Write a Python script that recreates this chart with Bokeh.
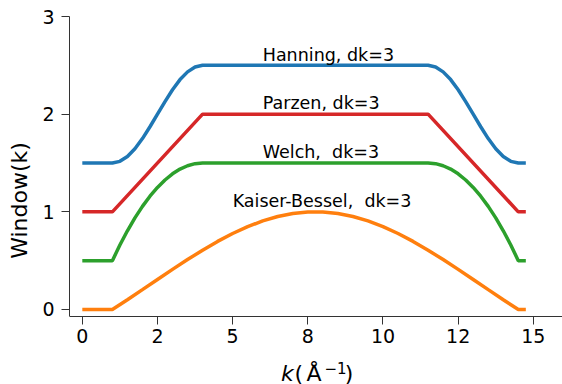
from bokeh.plotting import figure
from bokeh.models import ColumnDataSource, FixedTicker, Label, Range1d
from bokeh.core.properties import value
from bokeh.embed import file_html
from bokeh.resources import INLINE

# ---------------- data ----------------
hann_k = [0.0, 1.0, 1.25, 1.5, 1.75, 2.0, 2.25, 2.5, 2.75, 3.0, 3.25, 3.5, 3.75, 4.0,
          11.5, 11.75, 12.0, 12.25, 12.5, 12.75, 13.0, 13.25, 13.5, 13.75, 14.0, 14.25, 14.5, 14.75]
hann_w = [0.0, 0.0, 0.017, 0.067, 0.146, 0.25, 0.371, 0.5, 0.629, 0.75, 0.854, 0.933, 0.983, 1.0,
          1.0, 0.983, 0.933, 0.854, 0.75, 0.629, 0.5, 0.371, 0.25, 0.146, 0.067, 0.017, 0.0, 0.0]

parzen_k = [0.0, 1.0, 4.0, 11.5, 14.5, 14.75]
parzen_w = [0.0, 0.0, 1.0, 1.0, 0.0, 0.0]

welch_k = [0.0, 1.0, 1.25, 1.5, 1.75, 2.0, 2.25, 2.5, 2.75, 3.0, 3.25, 3.5, 3.75, 4.0,
           11.5, 11.75, 12.0, 12.25, 12.5, 12.75, 13.0, 13.25, 13.5, 13.75, 14.0, 14.25, 14.5, 14.75]
welch_w = [0.0, 0.0, 0.160, 0.306, 0.438, 0.556, 0.660, 0.75, 0.826, 0.889, 0.938, 0.972, 0.993, 1.0,
           1.0, 0.993, 0.972, 0.938, 0.889, 0.826, 0.75, 0.660, 0.556, 0.438, 0.306, 0.160, 0.0, 0.0]

kaiser_k = [0.0, 1.0, 1.5, 2.0, 2.5, 3.0, 3.5, 4.0, 4.5, 5.0, 5.5, 6.0, 6.5, 7.0, 7.5,
            8.0, 8.5, 9.0, 9.5, 10.0, 10.5, 11.0, 11.5, 12.0, 12.5, 13.0, 13.5, 14.0, 14.5, 14.75]
kaiser_w = [0.0, 0.0, 0.100, 0.203, 0.307, 0.411, 0.511, 0.607, 0.697, 0.778, 0.848, 0.907, 0.952, 0.983, 0.998,
            0.998, 0.983, 0.952, 0.907, 0.848, 0.778, 0.697, 0.607, 0.511, 0.411, 0.307, 0.203, 0.100, 0.0, 0.0]

# vertical offsets of each window in the stacked plot
offset_hann = 1.5
offset_parzen = 1.0
offset_welch = 0.5
offset_kaiser = 0.0

# (a no-break space keeps the double gap of the original labels in SVG)
label_texts = ["Hanning, dk=3", "Parzen, dk=3", "Welch,\u00a0 dk=3", "Kaiser-Bessel,\u00a0 dk=3"]
label_k = [6.0, 6.0, 6.0, 5.0]
label_offsets = [offset_hann, offset_parzen, offset_welch, offset_kaiser]
label_rise = 1.11

xtick_pos = [0.0, 2.5, 5.0, 7.5, 10.0, 12.5, 15.0]
xtick_labels = ["0", "2", "5", "8", "10", "12", "15"]
ytick_pos = [0, 1, 2, 3]

FONT = "DejaVu Sans"
Y_BOTTOM = -0.072   # where the x axis sits (bottom of the axes box)

# ---------------- figure ----------------
# The frame reaches the bottom of the canvas so that the x-axis title (k italic +
# roman unit) can be drawn as labels; the x axis itself is pinned at Y_BOTTOM.
p = figure(width=562, height=384, output_backend="svg", toolbar_location=None,
           x_range=Range1d(-0.426, 15.97), y_range=Range1d(-0.768, 3.0),
           min_border_left=69, min_border_right=0, min_border_top=16, min_border_bottom=0)
p.outline_line_color = None
p.grid.visible = False
p.background_fill_color = "white"
p.border_fill_color = "white"

series = [
    (hann_k, hann_w, offset_hann, "#1f77b4"),
    (kaiser_k, kaiser_w, offset_kaiser, "#ff7f0e"),
    (welch_k, welch_w, offset_welch, "#2ca02c"),
    (parzen_k, parzen_w, offset_parzen, "#d62728"),
]
for ks, ws, off, col in series:
    src = ColumnDataSource(dict(k=ks, y=[w + off for w in ws]))
    p.line("k", "y", source=src, line_color=col, line_width=3.5)

lab_src = ColumnDataSource(dict(x=label_k, y=[o + label_rise for o in label_offsets], t=label_texts))
p.text("x", "y", text="t", source=lab_src, text_font=value(FONT), text_font_size="17.5px",
       text_color="black", text_align="left", text_baseline="alphabetic")

# axes styling
for ax in (p.xaxis[0], p.yaxis[0]):
    ax.axis_line_color = "#333333"
    ax.axis_line_width = 1
    ax.major_tick_line_color = "#333333"
    ax.major_tick_in = 0
    ax.major_tick_out = 8
    ax.minor_tick_line_color = None
    ax.major_label_text_font = FONT
    ax.major_label_text_font_size = "19px"
    ax.major_label_text_color = "black"

p.xaxis.fixed_location = Y_BOTTOM
p.xaxis.ticker = FixedTicker(ticks=xtick_pos)
p.xaxis.major_label_overrides = {t: l for t, l in zip(xtick_pos, xtick_labels)}
p.xaxis.major_label_standoff = 4

p.yaxis.bounds = (Y_BOTTOM, 3.0)
p.yaxis.ticker = FixedTicker(ticks=ytick_pos)
p.yaxis.major_label_standoff = 7
p.yaxis.axis_label = "Window(k)"
p.yaxis.axis_label_text_font = FONT
p.yaxis.axis_label_text_font_size = "22px"
p.yaxis.axis_label_text_font_style = "normal"
p.yaxis.axis_label_text_color = "black"
p.yaxis.axis_label_standoff = 7

# x-axis title, typeset like matplotlib mathtext: italic k, (Å, superscript −1, )
title_parts = [
    ("k", 6.608, -0.66, "22px", "italic"),
    ("(", 7.057, -0.66, "22px", "normal"),
    ("Å", 7.456, -0.66, "22px", "normal"),
    ("\u22121", 8.055, -0.594, "15px", "normal"),
    (")", 8.727, -0.66, "22px", "normal"),
]
for txt, xk, yv, fs, style in title_parts:
    p.add_layout(Label(x=xk, y=yv, text=txt, text_font=FONT, text_font_size=fs,
                       text_font_style=style, text_baseline="alphabetic", text_align="left",
                       text_color="black"))

open("out.html", "w").write(file_html(p, INLINE))
